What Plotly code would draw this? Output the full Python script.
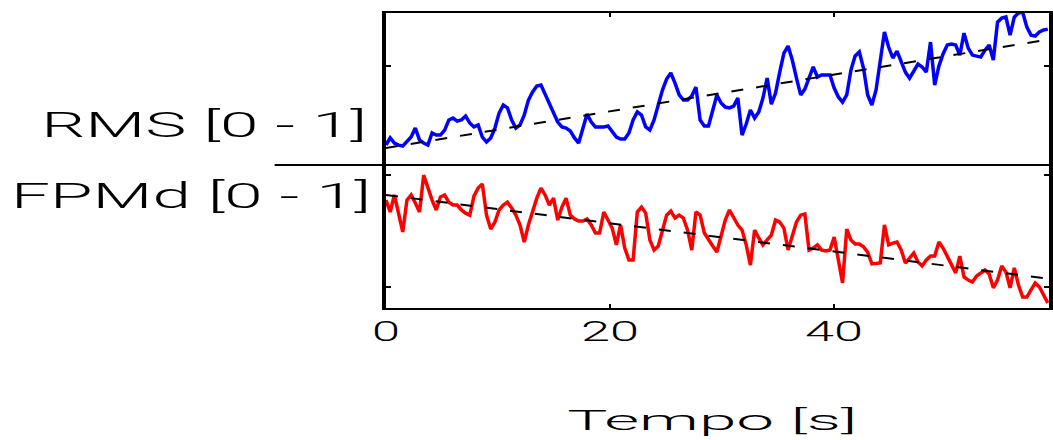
import json

import numpy as np
import plotly.graph_objects as go

# Sampling period of both signals, in seconds
SAMPLE_PERIOD = 0.374

# Normalised RMS of the signal (upper panel)
rms = [
    0.147, 0.179, 0.156, 0.147, 0.143, 0.165, 0.183, 0.223, 0.170, 0.156,
    0.147, 0.201, 0.192, 0.192, 0.214, 0.259, 0.268, 0.254, 0.259, 0.277,
    0.246, 0.228, 0.237, 0.183, 0.161, 0.179, 0.223, 0.290, 0.326, 0.313,
    0.259, 0.223, 0.237, 0.281, 0.348, 0.384, 0.411, 0.415, 0.375, 0.330,
    0.286, 0.250, 0.228, 0.223, 0.210, 0.179, 0.156, 0.223, 0.286, 0.250,
    0.228, 0.228, 0.228, 0.232, 0.205, 0.183, 0.174, 0.174, 0.201, 0.259,
    0.295, 0.281, 0.228, 0.214, 0.259, 0.326, 0.393, 0.442, 0.469, 0.424,
    0.371, 0.348, 0.348, 0.366, 0.406, 0.259, 0.232, 0.232, 0.295, 0.371,
    0.335, 0.317, 0.313, 0.321, 0.357, 0.192, 0.241, 0.304, 0.268, 0.295,
    0.357, 0.446, 0.330, 0.379, 0.473, 0.558, 0.589, 0.527, 0.446, 0.371,
    0.397, 0.451, 0.496, 0.451, 0.460, 0.460, 0.460, 0.402, 0.362, 0.339,
    0.371, 0.482, 0.545, 0.563, 0.491, 0.371, 0.326, 0.393, 0.536, 0.652,
    0.585, 0.536, 0.567, 0.518, 0.473, 0.446, 0.478, 0.509, 0.496, 0.473,
    0.607, 0.415, 0.500, 0.554, 0.594, 0.598, 0.594, 0.549, 0.647, 0.580,
    0.549, 0.545, 0.540, 0.571, 0.594, 0.527, 0.696, 0.714, 0.719, 0.638,
    0.719, 0.737, 0.741, 0.674, 0.638, 0.634, 0.652, 0.661, 0.665,
]

# Normalised mean power frequency (lower panel)
fpmd = [
    0.888, 0.835, 0.911, 0.821, 0.746, 0.888, 0.911, 0.875, 0.835, 1.000,
    0.942, 0.888, 0.844, 0.902, 0.911, 0.879, 0.866, 0.866, 0.844, 0.830,
    0.821, 0.906, 0.942, 0.960, 0.821, 0.759, 0.790, 0.844, 0.866, 0.879,
    0.853, 0.821, 0.777, 0.701, 0.777, 0.844, 0.897, 0.942, 0.911, 0.866,
    0.897, 0.799, 0.857, 0.897, 0.821, 0.804, 0.795, 0.795, 0.804, 0.777,
    0.741, 0.741, 0.835, 0.799, 0.763, 0.688, 0.777, 0.674, 0.621, 0.621,
    0.835, 0.857, 0.830, 0.710, 0.665, 0.683, 0.746, 0.821, 0.839, 0.808,
    0.821, 0.808, 0.754, 0.665, 0.835, 0.821, 0.741, 0.710, 0.683, 0.656,
    0.723, 0.799, 0.844, 0.812, 0.777, 0.754, 0.688, 0.598, 0.754, 0.719,
    0.688, 0.710, 0.732, 0.799, 0.790, 0.763, 0.665, 0.728, 0.790, 0.821,
    0.826, 0.665, 0.674, 0.688, 0.665, 0.661, 0.665, 0.723, 0.621, 0.518,
    0.759, 0.710, 0.692, 0.692, 0.679, 0.656, 0.603, 0.607, 0.607, 0.777,
    0.688, 0.696, 0.701, 0.665, 0.607, 0.629, 0.652, 0.612, 0.594, 0.621,
    0.638, 0.638, 0.701, 0.674, 0.638, 0.594, 0.563, 0.638, 0.545, 0.531,
    0.522, 0.549, 0.563, 0.576, 0.558, 0.496, 0.531, 0.594, 0.567, 0.496,
    0.585, 0.509, 0.455, 0.455, 0.487, 0.518, 0.500, 0.464, 0.429,
]

# Linear trends (start / end of the record)
trend_t = [0.0, 59.2]
rms_trend = [0.134, 0.619]
fpmd_trend = [0.911, 0.537]

# Axes
x_range = [0, 59.2]
x_ticks = [0, 20, 40]
rms_range = [0.058, 0.737]
rms_ticks = [0.5]
fpmd_range = [0.406, 1.045]
fpmd_ticks = [0.5, 1.0]

rms_label = "RMS [0 - 1]"
fpmd_label = "FPMd [0 - 1]"
time_label = "Tempo [s]"

tempo = np.arange(len(rms)) * SAMPLE_PERIOD

FONT = "Roboto, Liberation Sans, Arial, sans-serif"
WEIGHT = 300
W, H = 1053, 440
L, R, T, B = 386, 0, 13, 132
SPLIT = 0.4847  # boundary between the two panels (paper units)

fig = go.Figure()

fig.add_trace(go.Scatter(x=tempo, y=rms, mode="lines", xaxis="x2", yaxis="y2",
                         line=dict(color="#0000ff", width=3.5), hoverinfo="skip"))
fig.add_trace(go.Scatter(x=trend_t, y=rms_trend, mode="lines", xaxis="x2", yaxis="y2",
                         line=dict(color="black", width=2, dash="12px,13px"), hoverinfo="skip"))
fig.add_trace(go.Scatter(x=tempo, y=fpmd, mode="lines", xaxis="x", yaxis="y",
                         line=dict(color="#ff0000", width=3.5), hoverinfo="skip"))
fig.add_trace(go.Scatter(x=trend_t, y=fpmd_trend, mode="lines", xaxis="x", yaxis="y",
                         line=dict(color="black", width=2, dash="12px,13px"), hoverinfo="skip"))

common_x = dict(range=x_range, tickvals=x_ticks, ticks="inside", ticklen=4, tickwidth=2,
                tickcolor="black", showline=True, linecolor="black", linewidth=2,
                showgrid=False, zeroline=False)
common_y = dict(ticks="inside", ticklen=5, tickwidth=2, tickcolor="black",
                showline=True, linecolor="black", linewidth=4, mirror="ticks",
                showgrid=False, zeroline=False, showticklabels=False)


def label_font(size):
    return dict(size=size, family=FONT, color="black", weight=WEIGHT)


fig.update_layout(
    width=W, height=H,
    margin=dict(l=L, r=R, t=T, b=B, pad=0),
    paper_bgcolor="white", plot_bgcolor="white",
    showlegend=False,
    font=label_font(28),
    xaxis=dict(**common_x, anchor="y", domain=[0, 1],
               tickfont=label_font(28), ticklabelstandoff=-3),
    xaxis2=dict(**common_x, anchor="y2", matches="x", side="top", showticklabels=False),
    yaxis=dict(**common_y, anchor="x", domain=[0, SPLIT], range=fpmd_range, tickvals=fpmd_ticks),
    yaxis2=dict(**common_y, anchor="x2", domain=[SPLIT, 1], range=rms_range, tickvals=rms_ticks),
    shapes=[dict(type="line", xref="paper", yref="paper", x0=-0.168, x1=1.0,
                 y0=SPLIT, y1=SPLIT, line=dict(color="black", width=2))],
    annotations=[
        dict(text=rms_label, xref="paper", yref="paper", x=-0.2744, y=0.618,
             xanchor="center", yanchor="middle", showarrow=False, font=label_font(35)),
        dict(text=fpmd_label, xref="paper", yref="paper", x=-0.2939, y=0.378,
             xanchor="center", yanchor="middle", showarrow=False, font=label_font(35)),
        dict(text=time_label, xref="paper", yref="paper", x=0.4918, y=-0.382,
             xanchor="center", yanchor="middle", showarrow=False, font=label_font(28)),
    ],
)

# The labels use a wide, horizontally stretched face: widen each text run
# in place to its set length (px).
TEXT_WIDTH = {rms_label: 326, fpmd_label: 360, time_label: 290, "0": 28, "20": 58, "40": 58}
post_script = """
var gd = document.getElementById('{plot_id}');
var widths = %s;
gd.querySelectorAll('text').forEach(function (t) {
  var w = widths[t.textContent];
  if (w) {
    t.setAttribute('textLength', w);
    t.setAttribute('lengthAdjust', 'spacingAndGlyphs');
  }
});
""" % json.dumps(TEXT_WIDTH)

fig.write_html("out.html", post_script=post_script)
